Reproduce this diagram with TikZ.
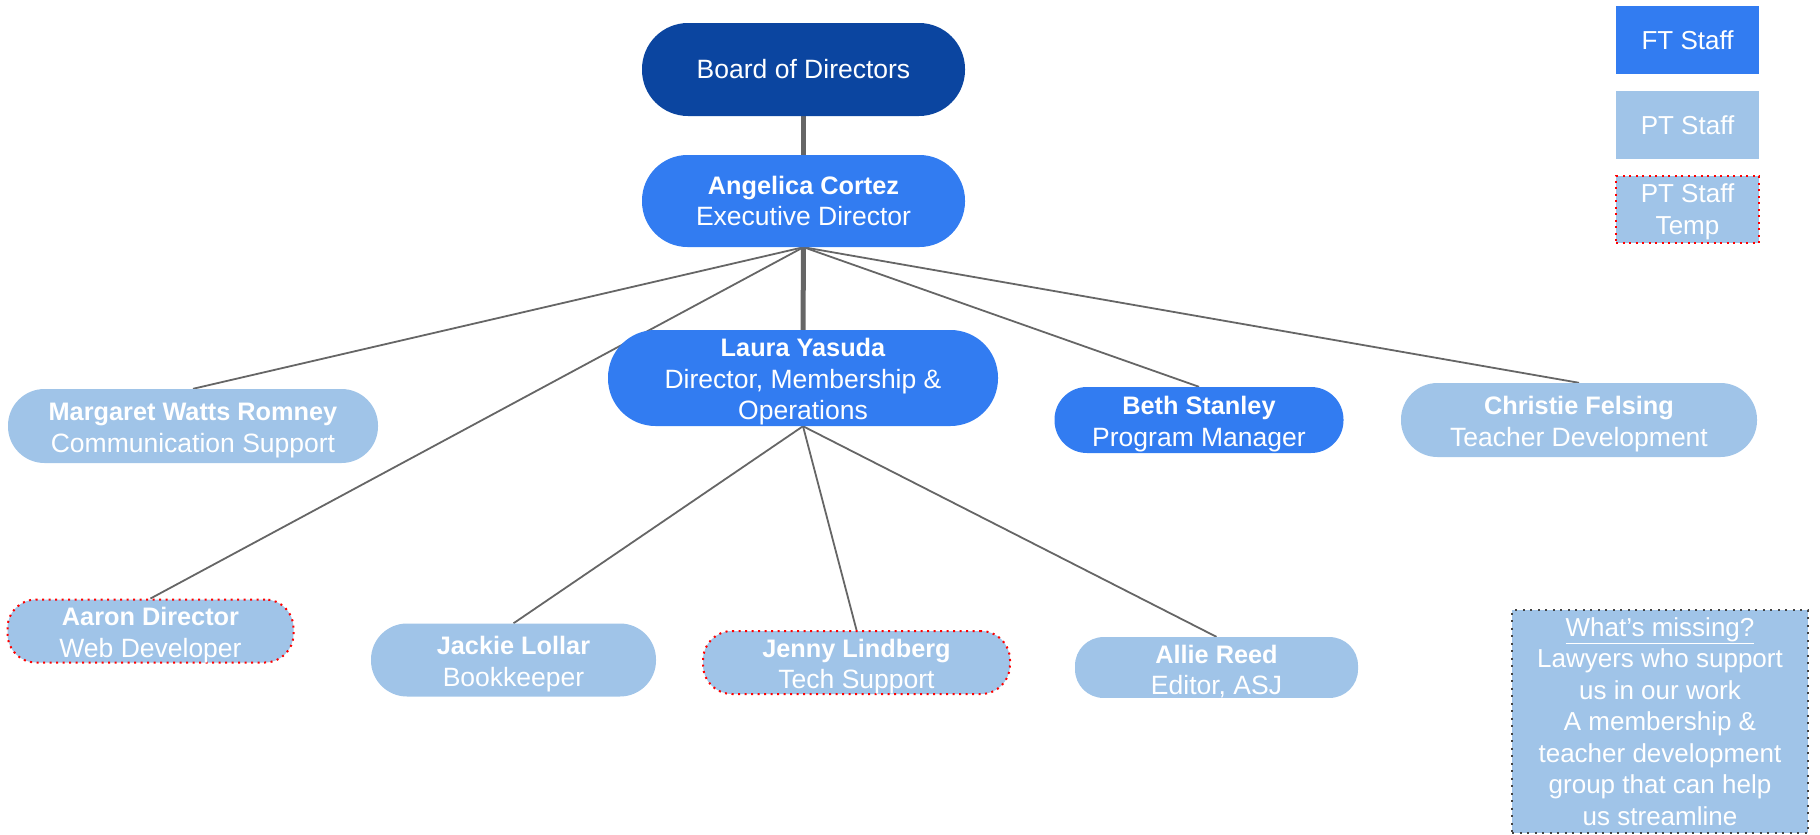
\documentclass[tikz,border=0pt]{standalone}
\usepackage{fontspec}
\setmainfont{Liberation Sans}
\usetikzlibrary{backgrounds}
\definecolor{bodblue}{HTML}{0B45A0}
\definecolor{ftblue}{HTML}{327CF1}
\definecolor{ptblue}{HTML}{A0C4E8}
\definecolor{conn}{HTML}{666666}
\definecolor{dotgray}{HTML}{434343}
\newcommand\pnamebare[1]{{\fontsize{25.3}{31.5}\selectfont\bfseries #1}}
\newcommand\pname[1]{\rule{0pt}{26pt}\pnamebare{#1}}
\tikzset{
  box/.style={rectangle, inner sep=0pt, align=center, text=white,
    font=\fontsize{26.5}{31.5}\selectfont},
  legbox/.style={rectangle, inner sep=0pt, align=center, text=white,
    font=\fontsize{26}{31.5}\selectfont},
  fullstaff/.style={box, fill=ftblue},
  partstaff/.style={box, fill=ptblue},
  tempborder/.style={draw=red, line width=2pt, dash pattern=on 2pt off 4.5pt},
  tempstaff/.style={box, fill=ptblue, tempborder},
  thinlink/.style={draw=conn, line width=1.8pt},
  thicklink/.style={draw=conn, line width=5pt},
}
\begin{document}
\begin{tikzpicture}[x=1pt,y=-1pt]
\useasboundingbox (0,0) rectangle (1820,835);

\node[box, fill=bodblue, minimum width=323pt, minimum height=93pt, rounded corners=46pt] (board) at (803.5,69.5) {Board of Directors};
\node[fullstaff, minimum width=323pt, minimum height=92pt, rounded corners=45.5pt] (angel) at (803.5,201) {\pnamebare{Angelica Cortez}\\Executive Director};
\node[fullstaff, minimum width=390pt, minimum height=96pt, rounded corners=47.5pt] (laura) at (803,378) {\pname{Laura Yasuda}\\Director, Membership \&\\Operations};
\node[partstaff, minimum width=370pt, minimum height=74pt, rounded corners=36.5pt] (marg) at (193,426) {\pname{Margaret Watts Romney}\\Communication Support};
\node[fullstaff, minimum width=289pt, minimum height=66pt, rounded corners=32.5pt] (beth) at (1199,420) {\pname{Beth Stanley}\\Program Manager};
\node[partstaff, minimum width=356pt, minimum height=74pt, rounded corners=36.5pt] (chris) at (1579,420) {\pname{Christie Felsing}\\Teacher Development};
\node[tempstaff, minimum width=286pt, minimum height=58pt, rounded corners=28.5pt] (aaron) at (150.5,631) {\pname{Aaron Director}\\Web Developer};
\node[partstaff, minimum width=285pt, minimum height=73pt, rounded corners=36pt] (jackie) at (513.5,660) {\pname{Jackie Lollar}\\Bookkeeper};
\node[tempstaff, minimum width=307pt, minimum height=59pt, rounded corners=29pt] (jenny) at (856.5,662.5) {\pname{Jenny Lindberg}\\Tech Support};
\node[partstaff, minimum width=283pt, minimum height=58pt, rounded corners=28.5pt] (allie) at (1216.5,667.5) {\pname{Allie Reed}\\Editor, ASJ};

% legend
\node[legbox, fill=ftblue, minimum width=143pt, minimum height=68pt] (legft) at (1687.5,40) {FT Staff};
\node[legbox, fill=ptblue, minimum width=143pt, minimum height=68pt] (legpt) at (1687.5,125) {PT Staff};
\node[legbox, fill=ptblue, tempborder, minimum width=143pt, minimum height=67pt] (legtemp) at (1687.5,209.5) {\rule{0pt}{23pt}PT Staff\\Temp};

% what's missing
\node[legbox, fill=ptblue, draw=dotgray, line width=2pt, dash pattern=on 2pt off 5.5pt, minimum width=296pt, minimum height=223pt] (missing) at (1660,721.5)
  {\underline{What’s missing?}\\Lawyers who support\\us in our work\\A membership \&\\teacher development\\group that can help\\us streamline};

\begin{scope}[on background layer]
\path[thicklink] (board.south) -- (angel.north);
\path[thicklink] (angel.south) -- (laura.north);
\path[thinlink] (angel.south) -- (marg.north);
\path[thinlink] (angel.south) -- (aaron.north);
\path[thinlink] (angel.south) -- (beth.north);
\path[thinlink] (angel.south) -- (chris.north);
\path[thinlink] (laura.south) -- (jackie.north);
\path[thinlink] (laura.south) -- (jenny.north);
\path[thinlink] (laura.south) -- (allie.north);
\end{scope}
\end{tikzpicture}
\end{document}
